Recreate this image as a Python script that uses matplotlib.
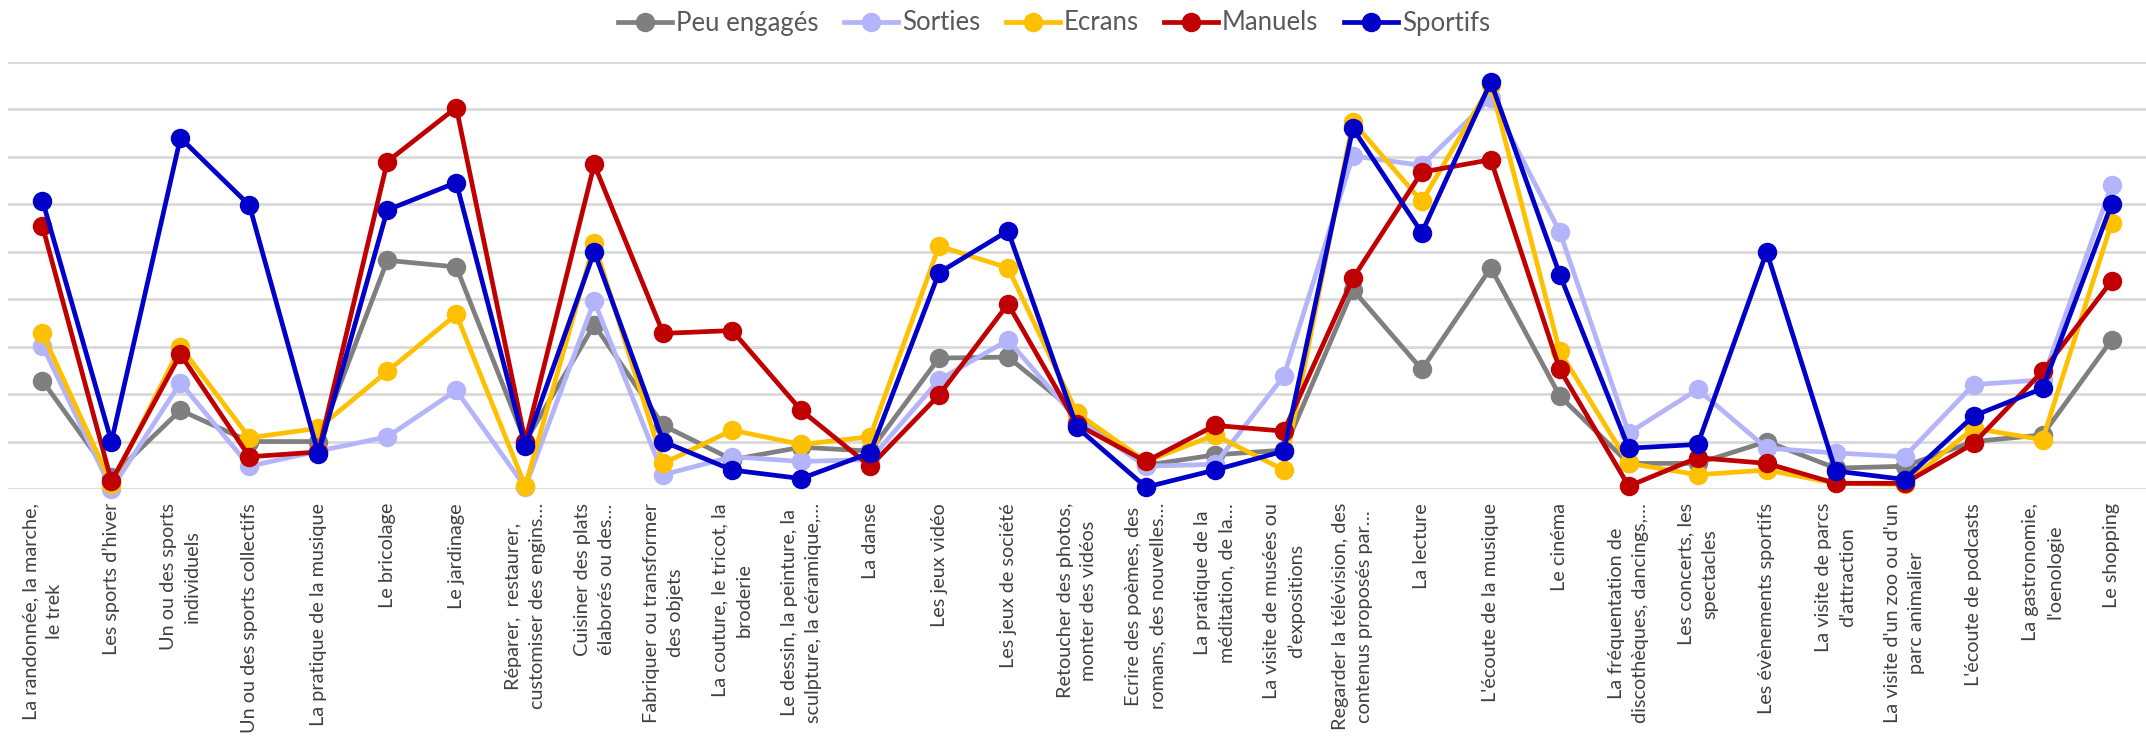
import matplotlib
matplotlib.use("Agg")
import matplotlib.pyplot as plt
import numpy as np

categories = [
    "La randonnée, la marche,\nle trek",
    "Les sports d’hiver",
    "Un ou des sports\nindividuels",
    "Un ou des sports collectifs",
    "La pratique de la musique",
    "Le bricolage",
    "Le jardinage",
    "Réparer,  restaurer,\ncustomiser des engins…",
    "Cuisiner des plats\nélaborés ou des…",
    "Fabriquer ou transformer\ndes objets",
    "La couture, le tricot, la\nbroderie",
    "Le dessin, la peinture, la\nsculpture, la céramique,…",
    "La danse",
    "Les jeux vidéo",
    "Les jeux de société",
    "Retoucher des photos,\nmonter des vidéos",
    "Ecrire des poèmes, des\nromans, des nouvelles…",
    "La pratique de la\nméditation, de la…",
    "La visite de musées ou\nd’expositions",
    "Regarder la télévision, des\ncontenus proposés par…",
    "La lecture",
    "L'écoute de la musique",
    "Le cinéma",
    "La fréquentation de\ndiscothèques, dancings,…",
    "Les concerts, les\nspectacles",
    "Les évènements sportifs",
    "La visite de parcs\nd'attraction",
    "La visite d'un zoo ou d'un\nparc animalier",
    "L'écoute de podcasts",
    "La gastronomie,\nl'oenologie",
    "Le shopping",
]

peu_engages = [11.4, 1.3, 8.3, 5.0, 5.0, 24.1, 23.4, 5.0, 17.3, 6.7, 3.1, 4.4, 4.0, 13.8, 13.9, 8.0,
               2.5, 3.6, 4.1, 21.0, 12.6, 23.3, 9.8, 2.7, 2.7, 5.0, 2.2, 2.4, 5.0, 5.7, 15.7]
sorties = [15.1, 0.0, 11.2, 2.4, 4.0, 5.5, 10.4, 0.2, 19.8, 1.5, 3.4, 2.9, 3.1, 11.5, 15.7, 7.3,
           2.4, 2.6, 11.9, 35.1, 34.1, 41.2, 27.1, 5.9, 10.5, 4.3, 3.8, 3.4, 11.0, 11.5, 32.0]
ecrans = [16.4, 0.5, 15.0, 5.4, 6.4, 12.4, 18.4, 0.3, 25.9, 2.7, 6.2, 4.7, 5.5, 25.6, 23.3, 8.0,
          2.9, 5.7, 2.0, 38.7, 30.3, 42.6, 14.5, 2.7, 1.5, 2.0, 0.6, 0.5, 6.4, 5.2, 28.0]
manuels = [27.7, 0.8, 14.2, 3.4, 3.9, 34.5, 40.2, 5.0, 34.2, 16.4, 16.7, 8.3, 2.4, 9.9, 19.5, 6.8,
           2.9, 6.7, 6.1, 22.2, 33.4, 34.7, 12.6, 0.3, 3.3, 2.7, 0.6, 0.6, 4.8, 12.4, 21.9]
sportifs = [30.4, 5.0, 37.0, 29.9, 3.7, 29.4, 32.3, 4.5, 25.0, 5.0, 2.0, 1.1, 3.8, 22.8, 27.2, 6.5,
            0.2, 2.0, 4.0, 38.0, 27.0, 42.9, 22.6, 4.3, 4.7, 25.0, 1.9, 1.0, 7.7, 10.6, 30.0]

series = [
    ("Peu engagés", peu_engages, "#7F7F7F"),
    ("Sorties", sorties, "#B4B4FA"),
    ("Ecrans", ecrans, "#FFC000"),
    ("Manuels", manuels, "#C00000"),
    ("Sportifs", sportifs, "#0000C8"),
]

plt.rcParams['font.family'] = ['Lato', 'DejaVu Sans']

fig = plt.figure(figsize=(21.46, 7.39), dpi=100)
ax = fig.add_axes([8 / 2146, 1 - 489 / 739, 1 - 8 / 2146, (489 - 62) / 739])

x = np.arange(len(categories))
for name, vals, col in series:
    ax.plot(x, vals, color=col, lw=3.4, marker='o', ms=13, label=name,
            clip_on=False, solid_joinstyle='round')

ax.set_xlim(-0.5, len(categories) - 0.5)
ax.set_ylim(0, 45)
ax.set_yticks(np.arange(0, 46, 5))
ax.yaxis.grid(True, color='#D9D9D9', lw=2)
ax.set_axisbelow(True)
ax.tick_params(axis='y', left=False, labelleft=False)
ax.tick_params(axis='x', length=0, pad=10)
ax.set_xticks(x)
ax.set_xticklabels(categories, rotation=90, fontsize=14.3, color='#404040',
                   ha='center', va='top', multialignment='center',
                   linespacing=1.5)
for s in ax.spines.values():
    s.set_visible(False)

fig.legend(loc='center', bbox_to_anchor=(1054 / 2146, 1 - 23 / 739), ncol=5,
           frameon=False, handlelength=2.1, handletextpad=0.15,
           columnspacing=1.0, labelcolor='#595959', prop={'size': 18.5})

fig.savefig('out.png', dpi=100)
